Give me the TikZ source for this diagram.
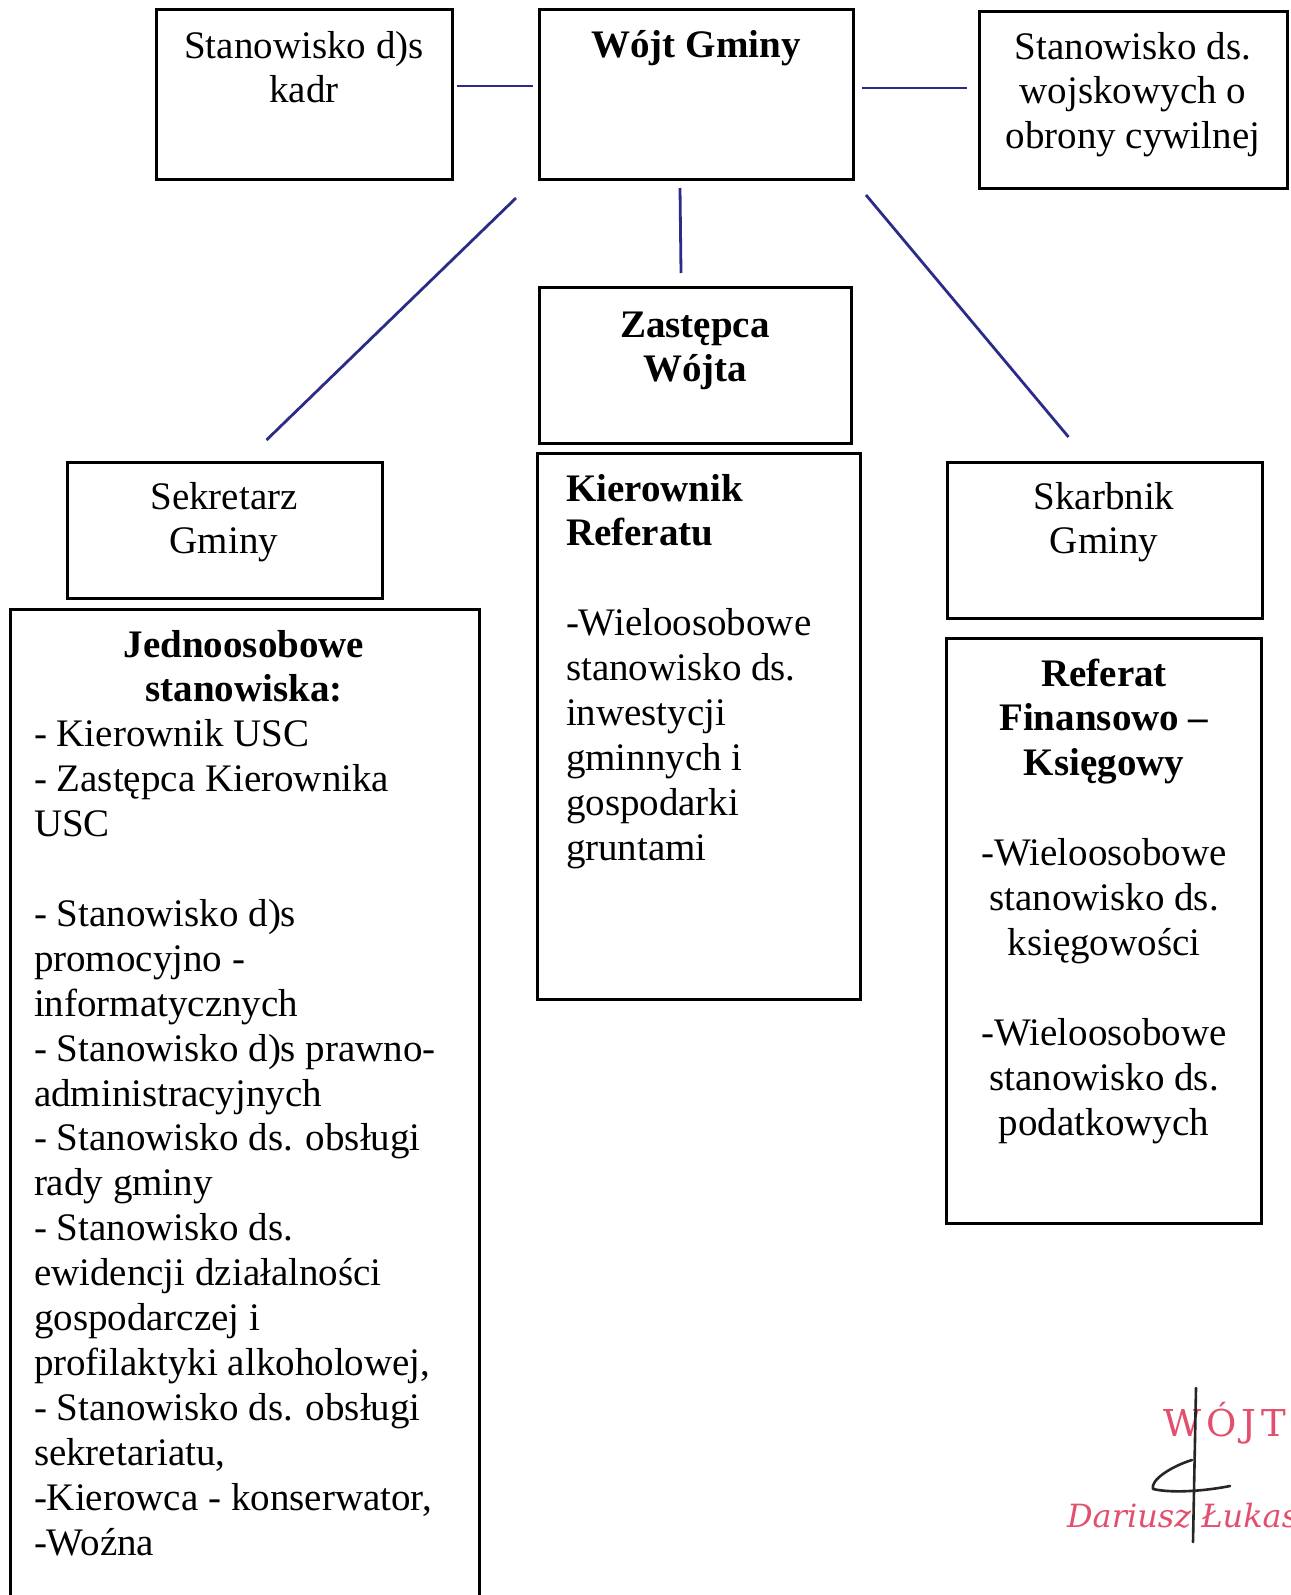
\documentclass[tikz,border=0pt]{standalone}
\usepackage{fontspec}
\setmainfont{Liberation Serif}
\newfontfamily\stampfont{DejaVu Serif}
\usetikzlibrary{calc}
\definecolor{linkblue}{HTML}{2C2C88}
\definecolor{stampred}{HTML}{E2506E}
\begin{document}
\begin{tikzpicture}[x=1pt,y=-1pt,
  box/.style={draw=black, line width=3pt, rectangle, inner sep=0pt, outer sep=0pt, anchor=north west},
  txt/.style={inner sep=0pt, outer sep=0pt, font=\fontsize{39}{44.9}\selectfont, anchor=north, align=center},
  txtl/.style={txt, anchor=north west, align=left},
  link/.style={draw=linkblue, line width=2.8pt},
  stamp/.style={inner sep=0pt, outer sep=0pt, text=stampred, anchor=base west},
  sig/.style={draw=black!85, line width=2.6pt, line cap=round, line join=round}
]
\useasboundingbox (0,0) rectangle (1290,1595);
\clip (0,0) rectangle (1290,1595);
\fill[white] (0,0) rectangle (1290,1595);
% boxes
\node[box, minimum width=296pt, minimum height=169pt] (kadr) at (156,10) {};
\node[box, minimum width=314pt, minimum height=169pt] (wojt) at (539,10) {};
\node[box, minimum width=308pt, minimum height=176pt] (wojsk) at (979,12) {};
\node[box, minimum width=312pt, minimum height=156pt] (zast) at (539,287) {};
\node[box, minimum width=323pt, minimum height=546pt] (kier) at (537,453) {};
\node[box, minimum width=315pt, minimum height=136pt] (sekr) at (67,462) {};
\node[box, minimum width=469pt, minimum height=1100pt] (jedno) at (10,609) {};
\node[box, minimum width=315pt, minimum height=156pt] (skarb) at (947,462) {};
\node[box, minimum width=315pt, minimum height=585pt] (ref) at (946,638) {};
% texts
\node[txt] (kadrT) at (304,18) {\rule{0pt}{40pt}Stanowisko d)s\\kadr};
\node[txt, font=\fontsize{39}{44.9}\selectfont\bfseries] (wojtT) at (696,18) {\rule{0pt}{40pt}Wójt Gminy};
\node[txt] (wojskT) at (1133,19) {\rule{0pt}{40pt}Stanowisko ds.\\wojskowych o\\obrony cywilnej};
\node[txt, font=\fontsize{39}{44.9}\selectfont\bfseries] (zastT) at (695,297) {\rule{0pt}{40pt}Zastępca\\Wójta};
\node[txtl] (kierT) at (566,461) {\rule{0pt}{40pt}\textbf{Kierownik}\\\textbf{Referatu}\\\mbox{}\\-Wieloosobowe\\stanowisko ds.\\inwestycji\\gminnych i\\gospodarki\\gruntami};
\node[txt] (sekrT) at (224,469) {\rule{0pt}{40pt}Sekretarz\\Gminy};
\node[txt] (skarbT) at (1104,469) {\rule{0pt}{40pt}Skarbnik\\Gminy};
\node[txt] (refT) at (1104,646) {\rule{0pt}{40pt}\textbf{Referat}\\\textbf{Finansowo –}\\\textbf{Księgowy}\\\mbox{}\\-Wieloosobowe\\stanowisko ds.\\księgowości\\\mbox{}\\-Wieloosobowe\\stanowisko ds.\\podatkowych};
\node[txt, font=\fontsize{39}{44.9}\selectfont\bfseries] (jednoH) at (244,617) {\rule{0pt}{40pt}Jednoosobowe\\stanowiska:};
\node[txtl] (jednoT) at (34,706.8) {\rule{0pt}{40pt}- Kierownik USC\\- Zastępca Kierownika\\USC\\\mbox{}\\- Stanowisko d)s\\promocyjno -\\informatycznych\\- Stanowisko d)s prawno-\\administracyjnych\\- Stanowisko ds. obsługi\\rady gminy\\- Stanowisko ds.\\ewidencji działalności\\gospodarczej i\\profilaktyki alkoholowej,\\- Stanowisko ds. obsługi\\sekretariatu,\\-Kierowca - konserwator,\\-Woźna};
% connectors
\draw[link] ($(kadr.north east)+(5,76)$) -- ($(wojt.north west)+(-6,76)$);
\draw[link] ($(wojt.north east)+(9,78)$) -- ($(wojsk.north west)+(-12,76)$);
\draw[link] ($(wojt.south west)+(-23,19)$) -- ($(sekr.north)+(42,-22)$);
\draw[link] ($(wojt.south)+(-16,9)$) -- ($(zast.north)+(-14,-14)$);
\draw[link] ($(wojt.south east)+(13,16)$) -- ($(skarb.north)+(-36,-25)$);
% stamp
\node[stamp, font=\stampfont\fontsize{37}{40}\selectfont\addfontfeature{LetterSpace=14}] (stampA) at (1163,1436) {WÓJT};
\node[stamp, font=\stampfont\itshape\fontsize{32}{36}\selectfont] (stampB) at (1067,1527) {Dariusz Łukas};
\draw[sig] (1196,1388) -- (1193,1542);
\draw[sig] (1192,1460) .. controls (1172,1466) and (1150,1480) .. (1153,1489) .. controls (1175,1494) and (1210,1490) .. (1230,1486);
\end{tikzpicture}
\end{document}
